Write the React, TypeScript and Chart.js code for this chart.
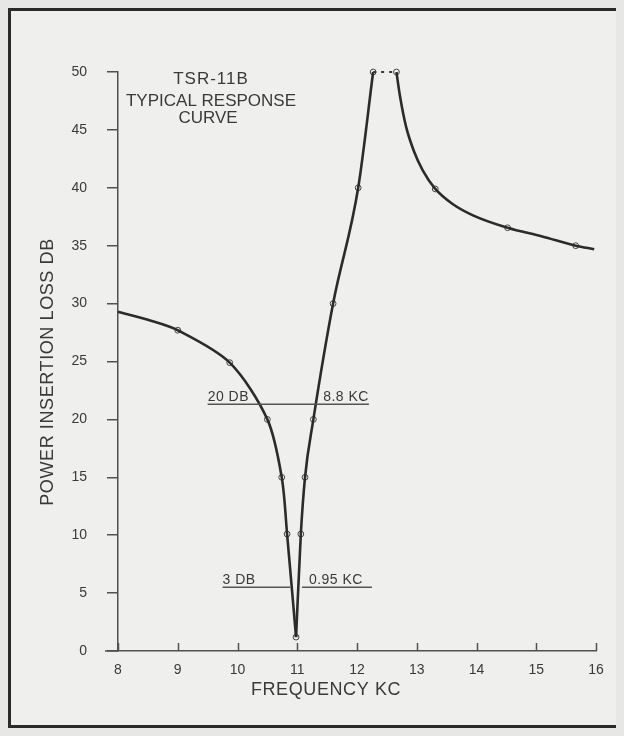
import React, { useEffect, useRef } from "react";
import { Chart, registerables } from "chart.js";

Chart.register(...registerables);

// Axis ranges / ticks
const freqMin = 8;
const freqMax = 16;
const freqStep = 1;
const lossMin = 0;
const lossMax = 50;
const lossStep = 5;

// Curve: falling branch (KC, DB)
const lowFreq = [8, 8.5, 9, 9.87, 10.5, 10.74, 10.83, 10.98];
const lowLoss = [29.3, 28.6, 27.7, 24.9, 20, 15, 10.1, 1.2];

// Curve: rising branch up to the top of the scale
const riseFreq = [10.98, 11.06, 11.13, 11.27, 11.6, 12.02, 12.27];
const riseLoss = [1.2, 10.1, 15, 20, 30, 40, 50];

// Dotted off-scale section
const peakFreq = [12.27, 12.66];
const peakLoss = [50, 50];

// Curve: descending branch above resonance
const fallFreq = [12.66, 12.72, 12.82, 12.95, 13.1, 13.31, 13.6, 13.95, 14.52, 15.1, 15.66, 15.97];
const fallLoss = [50, 47.9, 45.3, 43.2, 41.5, 39.9, 38.6, 37.6, 36.55, 35.8, 35.0, 34.7];

// Measured points (circles)
const markFreq = [9, 9.87, 10.5, 10.74, 10.83, 10.98, 11.06, 11.13, 11.27, 11.6, 12.02, 12.27, 12.66, 13.31, 14.52, 15.66];
const markLoss = [27.7, 24.9, 20, 15, 10.1, 1.2, 10.1, 15, 20, 30, 40, 50, 50, 39.9, 36.55, 35.0];

// Bandwidth reference lines
const refLevel = [21.3, 5.5];
const refLeftLabel = ["20 DB", "3 DB"];
const refRightLabel = ["8.8 KC", "0.95 KC"];
const refRightLabelEnd = [12.2, 12.1];
const ref20Freq = [9.5, 12.2];
const ref3LeftFreq = [9.75, 10.88];
const ref3RightFreq = [11.08, 12.25];

const titleLines = ["TSR-11B", "TYPICAL RESPONSE", "CURVE"];
const xTitle = "FREQUENCY KC";
const yTitle = "POWER INSERTION LOSS DB";

const FONT = "'Liberation Sans', Arial, sans-serif";
const INK = "#3a3a3a";
const AXIS = "#505050";

const pts = (xs: number[], ys: number[]) => xs.map((x, i) => ({ x, y: ys[i] }));

const textPlugin = {
  id: "textPlugin",
  afterDraw(chart: any) {
    const { ctx, chartArea, scales } = chart;
    const xs = scales.x;
    const ys = scales.y;
    ctx.save();
    ctx.fillStyle = INK;
    ctx.strokeStyle = AXIS;

    // inside x ticks
    ctx.lineWidth = 1.5;
    ctx.beginPath();
    for (let v = freqMin; v <= freqMax; v += freqStep) {
      const px = Math.round(xs.getPixelForValue(v)) + 0.5;
      ctx.moveTo(px, chartArea.bottom);
      ctx.lineTo(px, chartArea.bottom - 8);
    }
    // x axis extends left of the y axis
    ctx.moveTo(chartArea.left - 13, chartArea.bottom);
    ctx.lineTo(chartArea.left, chartArea.bottom);
    ctx.stroke();

    // title block
    ctx.textAlign = "center";
    ctx.textBaseline = "middle";
    ctx.font = `17px ${FONT}`;
    const tx = chartArea.left + 93;
    (ctx as any).letterSpacing = "1px";
    ctx.fillText(titleLines[0], tx, chartArea.top + 7);
    (ctx as any).letterSpacing = "0px";
    ctx.fillText(titleLines[1], tx, chartArea.top + 29);
    ctx.fillText(titleLines[2], tx - 3, chartArea.top + 46);

    // axis titles
    ctx.font = `18px ${FONT}`;
    (ctx as any).letterSpacing = "0.6px";
    ctx.fillText(xTitle, 318, 682);
    ctx.save();
    ctx.translate(40, 364);
    ctx.rotate(-Math.PI / 2);
    ctx.fillText(yTitle, 0, 0);
    ctx.restore();
    (ctx as any).letterSpacing = "0px";

    // reference line labels
    ctx.font = `14px ${FONT}`;
    (ctx as any).letterSpacing = "0.5px";
    ctx.textBaseline = "alphabetic";
    const leftStarts = [ref20Freq[0], ref3LeftFreq[0]];
    refLevel.forEach((lv, i) => {
      const py = ys.getPixelForValue(lv) - 3;
      ctx.textAlign = "left";
      ctx.fillText(refLeftLabel[i], xs.getPixelForValue(leftStarts[i]), py);
      ctx.textAlign = "right";
      ctx.fillText(refRightLabel[i], xs.getPixelForValue(refRightLabelEnd[i]), py);
    });
    ctx.restore();
  },
};

export default function App() {
  const ref = useRef<HTMLCanvasElement | null>(null);

  useEffect(() => {
    if (!ref.current) return;
    const curve = (xs: number[], ys: number[], tension: number, mono: boolean) => ({
      data: pts(xs, ys),
      borderColor: "#2b2b2b",
      borderWidth: 2.6,
      pointRadius: 0,
      tension,
      cubicInterpolationMode: mono ? "monotone" : "default",
      clip: false as any,
      fill: false,
    });
    const refLine = (xs: number[], lv: number) => ({
      data: xs.map((x) => ({ x, y: lv })),
      borderColor: "#555555",
      borderWidth: 1.5,
      pointRadius: 0,
      clip: false as any,
      fill: false,
    });
    const chart = new Chart(ref.current, {
      type: "line",
      data: {
        datasets: [
          refLine(ref20Freq, refLevel[0]),
          refLine(ref3LeftFreq, refLevel[1]),
          refLine(ref3RightFreq, refLevel[1]),
          curve(lowFreq, lowLoss, 0.3, false),
          curve(riseFreq, riseLoss, 0.4, true),
          {
            data: pts(peakFreq, peakLoss),
            borderColor: "#3a3a3a",
            borderWidth: 2,
            borderDash: [3, 5],
            pointRadius: 0,
            clip: false as any,
            fill: false,
          },
          curve(fallFreq, fallLoss, 0.4, true),
          {
            data: pts(markFreq, markLoss),
            showLine: false,
            pointRadius: 2.9,
            pointBorderWidth: 1,
            pointBackgroundColor: "#f6f6f4",
            pointBorderColor: "#404040",
            clip: false as any,
          },
        ] as any,
      },
      options: {
        animation: false,
        responsive: false,
        layout: { padding: { left: 0, top: 64, right: 28, bottom: 47 } },
        plugins: { legend: { display: false }, tooltip: { enabled: false } },
        scales: {
          x: {
            type: "linear",
            min: freqMin,
            max: freqMax,
            afterFit: (s: any) => {
              s.height = 30;
            },
            grid: { display: false },
            border: { display: true, color: AXIS, width: 1.5 },
            ticks: {
              stepSize: freqStep,
              padding: 3,
              color: INK,
              font: { family: FONT, size: 14 },
              maxRotation: 0,
              autoSkip: false,
            },
          },
          y: {
            type: "linear",
            min: lossMin,
            max: lossMax,
            afterFit: (s: any) => {
              s.width = 110;
            },
            grid: {
              display: true,
              drawOnChartArea: false,
              drawTicks: true,
              tickLength: 11,
              color: AXIS,
              lineWidth: 1.5,
            },
            border: { display: true, color: AXIS, width: 1.5 },
            ticks: {
              stepSize: lossStep,
              padding: 20,
              color: INK,
              font: { family: FONT, size: 14 },
            },
          },
        },
      },
      plugins: [textPlugin],
    });
    return () => chart.destroy();
  }, []);

  return (
    <>
      <div style={{ position: "fixed", inset: 0, background: "#e7e7e5", zIndex: -1 }} />
      <div style={{ position: "relative", width: 616, height: 720, overflow: "hidden", background: "#efefed" }}>
        <div
          style={{
            position: "absolute",
            left: 0,
            top: 0,
            width: 660,
            height: 720,
            border: "3px solid #2a2a2a",
            boxSizing: "border-box",
          }}
        />
        <canvas ref={ref} width={616} height={720} style={{ position: "absolute", left: 0, top: 0 }} />
      </div>
    </>
  );
}
